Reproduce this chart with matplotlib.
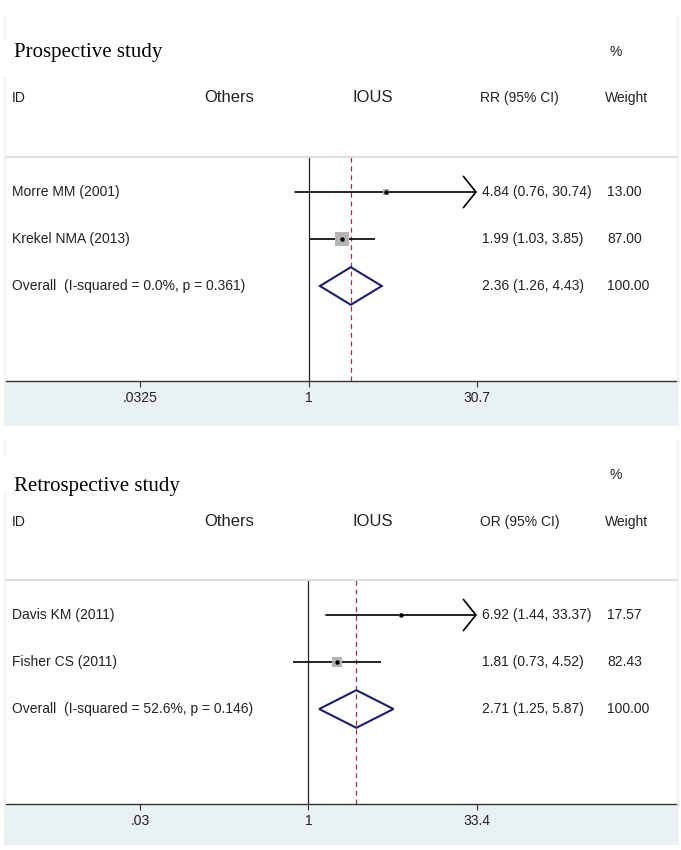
import matplotlib
matplotlib.use("Agg")
import matplotlib.pyplot as plt
import matplotlib.transforms as mtransforms
from matplotlib.patches import Rectangle, Polygon
from matplotlib.ticker import NullLocator
import numpy as np

W, H = 681, 850

# Prospective study
pro_ids = ["Morre MM (2001)", "Krekel NMA (2013)"]
pro_est = [4.84, 1.99]
pro_lo = [0.76, 1.03]
pro_hi = [30.74, 3.85]
pro_weight = [13.00, 87.00]
pro_arrow = [True, False]
pro_overall = [2.36, 1.26, 4.43, 100.00]
pro_overall_label = "Overall  (I-squared = 0.0%, p = 0.361)"
pro_ticks = [0.0325, 1, 30.7]
pro_ticklabels = [".0325", "1", "30.7"]

# Retrospective study
ret_ids = ["Davis KM (2011)", "Fisher CS (2011)"]
ret_est = [6.92, 1.81]
ret_lo = [1.44, 0.73]
ret_hi = [33.37, 4.52]
ret_weight = [17.57, 82.43]
ret_arrow = [True, False]
ret_overall = [2.71, 1.25, 5.87, 100.00]
ret_overall_label = "Overall  (I-squared = 52.6%, p = 0.146)"
ret_ticks = [0.03, 1, 33.4]
ret_ticklabels = [".03", "1", "33.4"]

SANS = ["Liberation Sans Narrow", "Liberation Sans", "DejaVu Sans"]
SERIF = ["Liberation Serif", "DejaVu Serif"]
TXT = "#222222"
BAND = "#EAF1F3"
EDGE = "#EDF2F4"
DIAMOND = "#1C1C6E"

fig = plt.figure(figsize=(W / 100, H / 100), dpi=100)
fig.patch.set_facecolor("white")

PL, PR = 5, 678          # panel left / right (px)
TICK_L, TICK_R = 140, 477  # pixel positions of the outer ticks
ROW_GAP = 47.0


def box(l, t, r, b):
    return [l / W, 1 - b / H, (r - l) / W, (b - t) / H]


def fx(px):
    return (px - PL) / (PR - PL)


def draw_panel(title, measure, ids, est, lo, hi, weight, arrows, overall,
               overall_label, ticks, ticklabels, box_top, title_px, title_cover,
               pct_px, header_px, gray_px, row1_px, axis_px, band_px, sq_scale):
    # band under the axis and the faint frame of the panel
    fig.patches.append(Rectangle((PL / W, 1 - band_px / H), (PR - PL) / W,
                                 (band_px - axis_px) / H, transform=fig.transFigure,
                                 facecolor=BAND, edgecolor="none", zorder=-1))
    for xe in (PL, PR):
        fig.lines.append(plt.Line2D([xe / W, xe / W], [1 - box_top / H, 1 - band_px / H],
                                    transform=fig.transFigure, color=EDGE, lw=1.2,
                                    zorder=1))
    fig.patches.append(Rectangle((0, 1 - title_cover[1] / H), 300 / W,
                                 (title_cover[1] - title_cover[0]) / H,
                                 transform=fig.transFigure, facecolor="white",
                                 edgecolor="none", zorder=2))

    ax = fig.add_axes(box(PL, gray_px, PR, axis_px))
    ax.set_xscale("log")
    a, b = fx(TICK_L), fx(TICK_R)
    L, R = np.log(ticks[0]), np.log(ticks[-1])
    span = (R - L) / (b - a)
    ax.set_xlim(np.exp(L - a * span), np.exp(L - a * span + span))
    ax.set_ylim(1 + (axis_px - row1_px) / ROW_GAP, 1 + (gray_px - row1_px) / ROW_GAP)

    for s in ["left", "right"]:
        ax.spines[s].set_visible(False)
    ax.spines["top"].set_color("#DEDEDE")
    ax.spines["top"].set_linewidth(1.5)
    ax.spines["bottom"].set_color("#333333")
    ax.spines["bottom"].set_linewidth(1.0)
    ax.set_yticks([])
    ax.set_xticks(ticks)
    ax.set_xticklabels(ticklabels, family=SANS, fontsize=10, color=TXT)
    ax.xaxis.set_minor_locator(NullLocator())
    ax.tick_params(axis="x", length=4, width=0.8, color="#333333", pad=3)

    ax.axvline(1, color="#222222", lw=0.9, zorder=1)
    ax.axvline(overall[0], color="#A03040", lw=0.9, ls=(0, (4, 3)), zorder=1)

    trans = mtransforms.blended_transform_factory(ax.transAxes, ax.transData)
    y_head = 1 + (header_px - row1_px) / ROW_GAP

    ax.text(fx(12), y_head, "ID", transform=trans, family=SANS, fontsize=10,
            color=TXT, va="center")
    ax.text(fx(229), y_head, "Others", transform=trans, family=SANS, fontsize=12,
            color=TXT, va="center", ha="center")
    ax.text(fx(373), y_head, "IOUS", transform=trans, family=SANS, fontsize=12,
            color=TXT, va="center", ha="center")
    ax.text(fx(480), y_head, measure + " (95% CI)", transform=trans, family=SANS,
            fontsize=10, color=TXT, va="center")
    ax.text(fx(605), y_head, "Weight", transform=trans, family=SANS, fontsize=10,
            color=TXT, va="center")
    fig.text(610 / W, 1 - pct_px / H, "%", family=SANS, fontsize=10, color=TXT,
             va="center")
    fig.text(14 / W, 1 - title_px / H, title, family=SERIF, fontsize=15,
             color="black", va="center", zorder=3)

    for i in range(len(ids)):
        y = i + 1
        if arrows[i]:
            ax.annotate("", xy=(min(hi[i], ticks[-1]), y), xytext=(lo[i], y),
                        arrowprops=dict(arrowstyle="->,head_length=0.6,head_width=0.75",
                                        lw=1.2, color="black", shrinkA=0, shrinkB=0,
                                        mutation_scale=15), zorder=2)
        else:
            ax.plot([lo[i], hi[i]], [y, y], color="black", lw=1.2, zorder=2,
                    solid_capstyle="butt")
        side = sq_scale * np.sqrt(weight[i])
        ax.scatter([est[i]], [y], marker="s", s=(side * 0.72) ** 2,
                   color="#B4B4B4", linewidths=0, zorder=3)
        ax.plot([est[i]], [y], "o", ms=2.2, color="black", zorder=4)
        ax.text(fx(12), y, ids[i], transform=trans, family=SANS, fontsize=10,
                color=TXT, va="center")
        ax.text(fx(482), y, "%.2f (%.2f, %.2f)" % (est[i], lo[i], hi[i]),
                transform=trans, family=SANS, fontsize=10, color=TXT, va="center")
        ax.text(fx(607), y, "%.2f" % weight[i], transform=trans, family=SANS,
                fontsize=10, color=TXT, va="center")

    yo = len(ids) + 1
    h = 0.4
    ax.add_patch(Polygon([(overall[1], yo), (overall[0], yo - h), (overall[2], yo),
                          (overall[0], yo + h)], closed=True, fill=False,
                         edgecolor=DIAMOND, lw=1.5, zorder=3))
    ax.text(fx(12), yo, overall_label, transform=trans, family=SANS, fontsize=10,
            color=TXT, va="center")
    ax.text(fx(482), yo, "%.2f (%.2f, %.2f)" % (overall[0], overall[1], overall[2]),
            transform=trans, family=SANS, fontsize=10, color=TXT, va="center")
    ax.text(fx(607), yo, "%.2f" % overall[3], transform=trans, family=SANS,
            fontsize=10, color=TXT, va="center")
    return ax


draw_panel("Prospective study", "RR", pro_ids, pro_est, pro_lo, pro_hi, pro_weight,
           pro_arrow, pro_overall, pro_overall_label, pro_ticks, pro_ticklabels,
           box_top=18, title_px=52, title_cover=(40, 76), pct_px=52, header_px=98,
           gray_px=157, row1_px=192, axis_px=381, band_px=426, sq_scale=1.43)

draw_panel("Retrospective study", "OR", ret_ids, ret_est, ret_lo, ret_hi, ret_weight,
           ret_arrow, ret_overall, ret_overall_label, ret_ticks, ret_ticklabels,
           box_top=442, title_px=486, title_cover=(455, 490), pct_px=475, header_px=522,
           gray_px=580, row1_px=615, axis_px=804, band_px=845, sq_scale=1.18)

plt.savefig("out.png", dpi=100, facecolor="white")
